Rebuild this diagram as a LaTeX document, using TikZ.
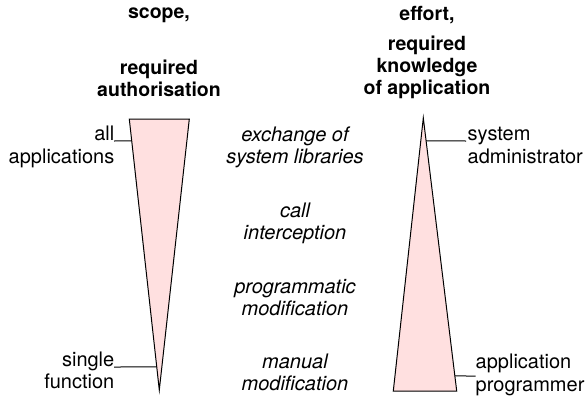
\documentclass[tikz,border=0pt]{standalone}
\usepackage{fontspec}
\setmainfont{TeX Gyre Heros}
\usetikzlibrary{calc}
\definecolor{wedgefill}{RGB}{255,224,224}
\tikzset{
  wedge/.style={draw=black, line width=1pt, fill=wedgefill, line join=miter},
  leader/.style={draw=black, line width=1pt},
  lbl/.style={inner sep=0pt, font=\fontsize{20}{22.5}\selectfont},
  method/.style={inner sep=0pt, align=center, anchor=north, font=\fontsize{20}{22.5}\selectfont\itshape},
  head/.style={inner sep=0pt, align=center, anchor=north, font=\fontsize{19.5}{22}\selectfont\bfseries},
}
\begin{document}
\begin{tikzpicture}[x=1pt,y=-1pt]
\useasboundingbox (0,0) rectangle (588,396);
% headings
\node[head] (hscope) at (159,3.1) {\strut scope,};
\node[head] (hauth) at (159,58.6) {\strut required\\authorisation};
\node[head] (heffort) at (427,5.1) {\strut effort,};
\node[head] (hknow) at (427,34.6) {\strut required\\knowledge\\of application};
% wedges
\coordinate (LTL) at (129.3,119);
\coordinate (LTR) at (189.3,119);
\coordinate (LA) at (159.3,390);
\draw[wedge] (LTL) -- (LTR) -- (LA) -- cycle;
\coordinate (RA) at (423.3,118);
\coordinate (RBL) at (393.3,391);
\coordinate (RBR) at (456.7,391);
\draw[wedge] (RA) -- (RBR) -- (RBL) -- cycle;
% methods
\node[method] (mexch) at (295,125.25) {\strut exchange of\\system libraries};
\node[method] (mcall) at (295,201.25) {\strut call\\interception};
\node[method] (mprog) at (295,277.25) {\strut programmatic\\modification};
\node[method] (mman) at (295,352.25) {\strut manual\\modification};
% left labels
\node[lbl, align=right, anchor=north east] (lall) at (114.5,124.75) {\strut all\\applications};
\node[lbl, align=right, anchor=north east] (lsingle) at (114.5,350.25) {\strut single\\function};
% right labels
\node[lbl, align=left, anchor=north west] (lsys) at (467.5,124.75) {\strut system\\administrator};
\node[lbl, align=left, anchor=north west] (lapp) at (475.5,352.75) {\strut application\\programmer};
% leader lines
\coordinate (allS) at (114,141);
\coordinate (singleS) at (114,367);
\coordinate (sysS) at (466,141);
\coordinate (appS) at (475.5,376);
\draw[leader] (allS) -- ($(LTL)!0.081!(LA)$);
\draw[leader] (singleS) -- ($(LTL)!0.915!(LA)$);
\draw[leader] (sysS) -- ($(RA)!0.084!(RBR)$);
\draw[leader] (appS) -- ($(RA)!0.945!(RBR)$);
\end{tikzpicture}
\end{document}
